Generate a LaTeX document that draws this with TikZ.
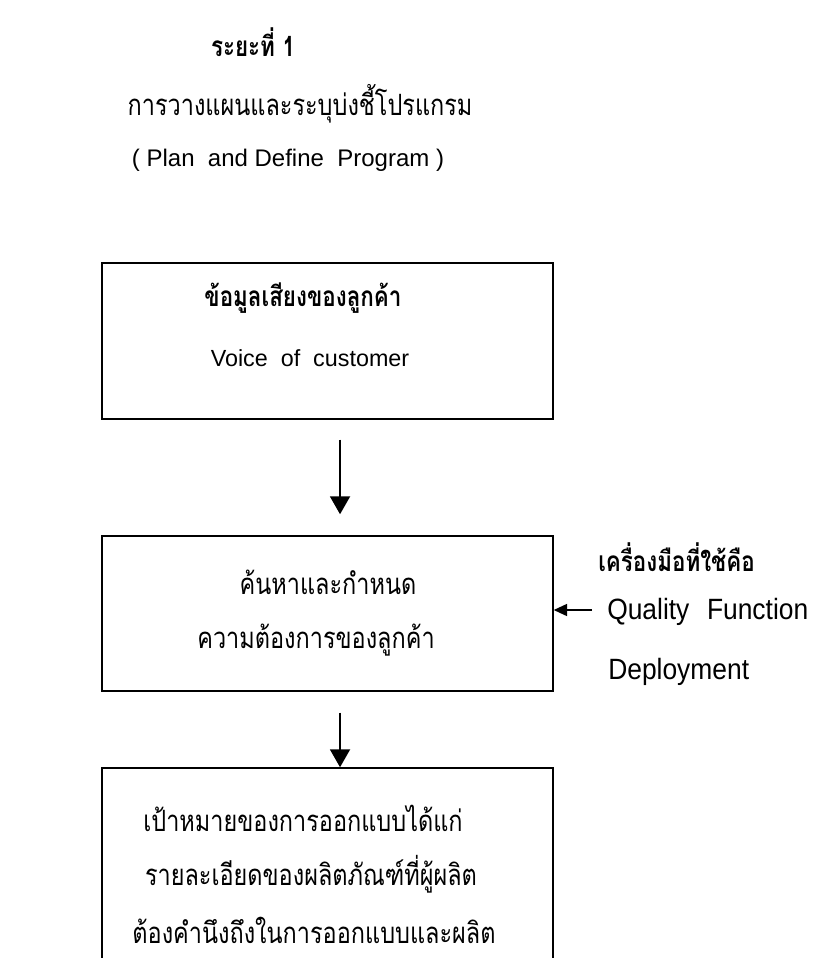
\documentclass[tikz,border=0pt]{standalone}
\usepackage{fontspec}
\setmainfont{Liberation Sans}
\newfontfamily\thaifont[Script=Thai,FakeStretch=0.8]{Loma}
\newfontfamily\sidefont[FakeStretch=0.9]{Liberation Sans}
\usetikzlibrary{arrows.meta}
\begin{document}
\begin{tikzpicture}[x=0.75pt,y=-0.75pt,
  box/.style={draw, line width=1.1pt, minimum width=338.25pt, inner sep=0pt},
  th/.style={font=\thaifont\fontsize{22}{24}\selectfont, inner sep=0pt},
  thb/.style={font=\thaifont\bfseries\fontsize{21}{24}\selectfont, inner sep=0pt},
  en/.style={font=\fontsize{17.5}{20}\selectfont, inner sep=0pt},
  enside/.style={font=\sidefont\fontsize{22}{24}\selectfont, inner sep=0pt, anchor=west},
  flow/.style={line width=1.5pt, -{Triangle[length=13.5pt,width=15pt]}},
  sidearrow/.style={line width=1.2pt, -{Triangle[length=10pt,width=9pt]}}
]
\useasboundingbox (0,0) rectangle (823,958);
\clip (0,0) rectangle (823,958);
\fill[white] (0,0) rectangle (823,958);

% titles
\node[thb] (t1) at (253,42) {ระยะที่ 1};
\node[th] (t2) at (300,104) {การวางแผนและระบุบ่งชี้โปรแกรม};
\node[en, font=\fontsize{18}{20}\selectfont] (t3) at (288,160) {( Plan\ \ and Define\ \ Program )};

% boxes
\node[box, minimum height=117pt] (b1) at (327.5,341) {};
\node[box, minimum height=116.25pt] (b2) at (327.5,613.5) {};
\node[box, minimum height=150pt] (b3) at (327.5,868) {};

% box texts
\node[thb] (b1a) at (303,298) {ข้อมูลเสียงของลูกค้า};
\node[en] (b1b) at (310,358) {Voice\ \ of\ \ customer};
\node[th] (b2a) at (328,582) {ค้นหาและกำหนด};
\node[th] (b2b) at (316,640) {ความต้องการของลูกค้า};
\node[th] (b3a) at (303,818) {เป้าหมายของการออกแบบได้แก่};
\node[th] (b3b) at (311,874) {รายละเอียดของผลิตภัณฑ์ที่ผู้ผลิต};
\node[th] (b3c) at (314,930) {ต้องคำนึงถึงในการออกแบบและผลิต};

% side notes
\node[thb, anchor=west] (s1) at (598,557) {เครื่องมือที่ใช้คือ};
\node[enside] (s2) at (607,612) {Quality\hspace{0.6em}Function};
\node[enside] (s3) at (608,672) {Deployment};
\coordinate (sa) at (592,610);

% connectors
\draw[flow] ([xshift=9.4pt,yshift=-15pt]b1.south) -- ([xshift=9.4pt,yshift=15.75pt]b2.north);
\draw[flow] ([xshift=9.4pt,yshift=-15.75pt]b2.south) -- ([xshift=9.4pt]b3.north);
\draw[sidearrow] (sa) -- (sa -| b2.east);
\end{tikzpicture}
\end{document}
